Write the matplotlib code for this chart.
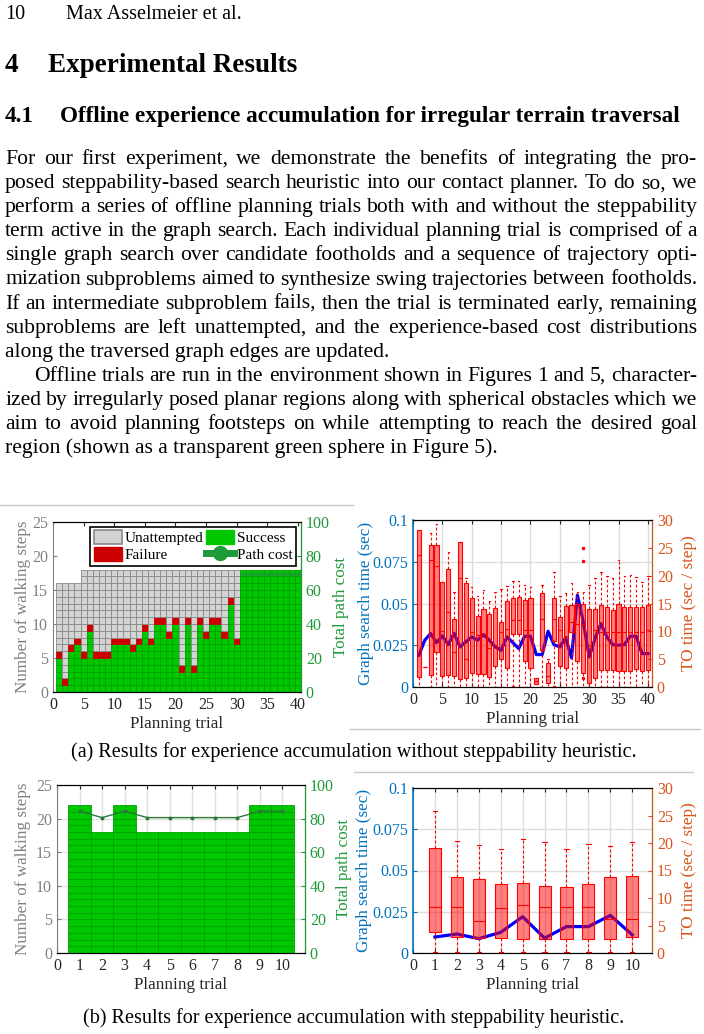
import numpy as np
import matplotlib.pyplot as plt
from matplotlib.patches import Patch
from matplotlib.lines import Line2D

plt.rcParams['font.family'] = ['Liberation Serif', 'DejaVu Serif']

W, H = 704, 1034
fig = plt.figure(figsize=(W / 100, H / 100), dpi=100)
renderer = fig.canvas.get_renderer()

# ---------------- data ----------------
# (a) without steppability heuristic, 40 trials
trials_a = np.arange(1, 41)
planned_steps_a = [16] * 4 + [18] * 36
success_steps_a = [5, 1, 6, 7, 5, 9, 5, 5, 5, 7, 7, 7, 6, 7, 9, 7, 10, 10, 8, 10,
                   3, 10, 3, 10, 8, 10, 10, 8, 13, 7] + [18] * 10
failed_a = [1] * 30 + [0] * 10
cost_trials_a = np.arange(31, 41)
path_cost_a = [69.5] * 10

search_time_a = [0.019, 0.028, 0.032, 0.0266, 0.0306, 0.0254, 0.0322, 0.024, 0.027, 0.030,
                 0.028, 0.0314, 0.028, 0.024, 0.022, 0.030, 0.0266, 0.023, 0.0304, 0.0304,
                 0.0194, 0.0194, 0.0334, 0.0254, 0.024, 0.0294, 0.0174, 0.055, 0.039, 0.018,
                 0.029, 0.038, 0.030, 0.0254, 0.025, 0.0254, 0.0304, 0.0304, 0.020, 0.020]
to_q1_a = [1.8, 3.6, 2.2, 6.3, 2.0, 2.1, 1.9, 1.5, 1.7, 2.5, 2.3, 2.4, 1.8, 3.7, 5.1, 3.4, 9.6, 9.6, 4.7, 3.4,
           0.5, 6.6, 0.7, 8.3, 3.7, 3.4, 9.8, 4.6, 2.5, 0.7, 1.6, 3.1, 3.1, 3.1, 2.8, 2.9, 2.8, 3.2, 2.8, 3.1]
to_med_a = [23.7, 3.6, 22.8, 21.8, 10.0, 13.4, 6.3, 19.5, 5.0, 9.9, 9.3, 9.6, 7.0, 7.5, 9.9, 10.5, 12.0, 12.0,
            10.2, 10.2, 1.0, 12.2, 1.9, 12.2, 10.2, 9.2, 11.6, 11.4, 11.4, 7.5, 10.2, 9.9, 9.9, 9.9, 9.9,
            9.8, 9.8, 9.8, 9.8, 10.2]
to_q3_a = [28.2, 3.6, 25.5, 25.5, 18.8, 21.2, 12.3, 26.0, 18.6, 15.9, 12.8, 14.0, 13.2, 14.2, 11.6, 15.4,
           15.9, 16.2, 15.6, 15.9, 1.6, 16.8, 4.3, 15.9, 12.6, 14.6, 14.8, 15.0, 15.0, 14.1, 14.1, 14.7,
           14.4, 13.8, 15.0, 14.4, 14.4, 14.4, 14.3, 14.7]
to_lo_a = [0.0, 3.6, 0.0, 0.0, 0.0, 0.0, 0.0, 0.0, 0.0, 0.0, 0.0, 0.0, 0.0, 0.0, 0.0, 0.0, 0.0, 0.0, 0.0, 0.0,
           0.5, 0.0, 0.0, 0.0, 0.0, 0.0, 0.0, 0.0, 0.0, 0.0, 0.0, 0.0, 0.0, 0.0, 0.0, 0.0, 0.0, 0.0, 0.0, 0.0]
to_hi_a = [28.2, 3.6, 27.6, 29.2, 18.8, 24.2, 17.1, 26.0, 19.5, 18.0, 16.4, 17.4, 15.4, 17.1, 17.6, 18.2,
           19.0, 19.0, 18.4, 18.0, 1.6, 18.4, 5.1, 20.6, 16.4, 16.8, 18.6, 17.0, 17.1, 18.4, 19.6, 20.7,
           19.9, 19.6, 22.8, 19.9, 20.2, 19.7, 18.9, 20.0]
to_fliers_a = {17: [0.0], 24: [0.0], 29: [25.0, 22.7, 1.7]}

# (b) with steppability heuristic, 10 trials
trials_b = np.arange(1, 11)
success_steps_b = [22, 18, 22, 18, 18, 18, 18, 18, 22, 22]
path_cost_b = [84.4, 80.6, 84.4, 80.6, 80.6, 80.6, 80.6, 80.6, 84.4, 84.4]
search_time_b = [0.0097, 0.0115, 0.0087, 0.0125, 0.022, 0.009, 0.016, 0.016, 0.0228, 0.011]
to_q1_b = [3.9, 2.9, 2.8, 2.7, 2.6, 2.5, 2.6, 2.5, 2.5, 2.9]
to_med_b = [8.3, 8.4, 5.8, 8.2, 8.7, 8.4, 8.3, 8.4, 6.1, 6.1]
to_q3_b = [19.1, 13.9, 13.5, 12.6, 12.7, 12.1, 12.0, 12.5, 13.8, 14.0]
to_lo_b = [0.2] * 10
to_hi_b = [25.8, 20.4, 19.6, 19.0, 20.7, 20.2, 18.9, 19.9, 19.5, 20.1]

GREEN = '#00c800'
GREEN_EDGE = '#00a000'
RED = '#cc0000'
GRAY = '#d3d3d3'
GRAY_EDGE = '#888888'
COST = '#1f9a3a'
STEPS_AX = '#808080'
BLUE_AX = '#0072bd'
ORANGE_AX = '#d95319'
TICK = 11.5
LABEL = 12.3


def rect(l, t, r, b):
    return [l / W, 1 - b / H, (r - l) / W, (b - t) / H]


# ---------------- page text ----------------
def put_line(text, y, x0=5, x1=697, justify=True, indent=0, **kw):
    if not justify:
        fig.text((x0 + indent) / W, 1 - y / H, text, va='baseline', **kw)
        return
    words = text.split()
    arts = [fig.text(0, 1 - y / H, w, va='baseline', **kw) for w in words]
    widths = [a.get_window_extent(renderer).width for a in arts]
    gap = max((x1 - x0 - indent - sum(widths)) / (len(words) - 1), 3)
    x = x0 + indent
    for a, w in zip(arts, widths):
        a.set_x(x / W)
        x += w + gap


fig.text(5 / W, 1 - 19 / H, '10', va='baseline', fontsize=14.5)
fig.text(66 / W, 1 - 19 / H, 'Max Asselmeier et al.', va='baseline', fontsize=14.5)
fig.text(5 / W, 1 - 72 / H, '4', va='baseline', fontsize=19.5, fontweight='bold')
fig.text(48 / W, 1 - 72 / H, 'Experimental Results', va='baseline', fontsize=19.5, fontweight='bold')
fig.text(5 / W, 1 - 122 / H, '4.1', va='baseline', fontsize=16.7, fontweight='bold')
fig.text(60 / W, 1 - 122 / H, 'Offline experience accumulation for irregular terrain traversal',
         va='baseline', fontsize=16.7, fontweight='bold')

para = [
    ("For our first experiment, we demonstrate the benefits of integrating the pro-", True, 0),
    ("posed steppability-based search heuristic into our contact planner. To do so, we", True, 0),
    ("perform a series of offline planning trials both with and without the steppability", True, 0),
    ("term active in the graph search. Each individual planning trial is comprised of a", True, 0),
    ("single graph search over candidate footholds and a sequence of trajectory opti-", True, 0),
    ("mization subproblems aimed to synthesize swing trajectories between footholds.", True, 0),
    ("If an intermediate subproblem fails, then the trial is terminated early, remaining", True, 0),
    ("subproblems are left unattempted, and the experience-based cost distributions", True, 0),
    ("along the traversed graph edges are updated.", False, 0),
    ("Offline trials are run in the environment shown in Figures 1 and 5, character-", True, 29),
    ("ized by irregularly posed planar regions along with spherical obstacles which we", True, 0),
    ("aim to avoid planning footsteps on while attempting to reach the desired goal", True, 0),
    ("region (shown as a transparent green sphere in Figure 5).", False, 0),
]
for i, (line, just, ind) in enumerate(para):
    put_line(line, 164 + 24.1 * i, justify=just, indent=ind, fontsize=15.6)

fig.text(354 / W, 1 - 757 / H,
         '(a) Results for experience accumulation without steppability heuristic.',
         ha='center', va='baseline', fontsize=14.5)
fig.text(354 / W, 1 - 1023 / H,
         '(b) Results for experience accumulation with steppability heuristic.',
         ha='center', va='baseline', fontsize=14.5)

for xs, y in [((0, 353), 505), ((350, 700), 729), ((354, 693), 772)]:
    fig.add_artist(Line2D([xs[0] / W, xs[1] / W], [1 - y / H] * 2, color='#c8c8c8', lw=1))


# ---------------- helpers ----------------
def draw_cells(ax, trials, planned, success, failed):
    xs, bottoms, fcs, ecs = [], [], [], []
    for t, p, s, f in zip(trials, planned, success, failed):
        for j in range(p):
            xs.append(t)
            bottoms.append(j)
            if j < s:
                fcs.append(GREEN)
                ecs.append(GREEN_EDGE)
            elif j == s and f:
                fcs.append(RED)
                ecs.append(RED)
            else:
                fcs.append(GRAY)
                ecs.append(GRAY_EDGE)
    ax.bar(xs, 1, bottom=bottoms, width=1, color=fcs, edgecolor=ecs, linewidth=0.6, zorder=2)


def style_steps_axes(ax, axr, xmax, xticks, lx, rx):
    ax.set_xlim(0, xmax)
    ax.set_ylim(0, 25)
    ax.set_xticks(xticks)
    ax.set_yticks(np.arange(0, 26, 5))
    ax.tick_params(direction='in', top=True, labelsize=TICK, length=3, colors='#262626')
    ax.tick_params(axis='y', colors=STEPS_AX, right=False)
    ax.spines['left'].set_color(STEPS_AX)
    ax.spines['bottom'].set_color('#262626')
    ax.spines['top'].set_color('#262626')
    ax.set_ylabel('Number of walking steps', color=STEPS_AX, fontsize=LABEL)
    ax.yaxis.set_label_coords(lx, 0.5)
    ax.set_xlabel('Planning trial', fontsize=LABEL, labelpad=2, color='#262626')
    axr.set_ylim(0, 100)
    axr.set_yticks(np.arange(0, 101, 20))
    axr.tick_params(direction='in', colors=COST, labelsize=TICK, length=3)
    axr.spines['right'].set_color(COST)
    axr.spines['left'].set_visible(False)
    axr.set_ylabel('Total path cost', color=COST, fontsize=LABEL)
    axr.yaxis.set_label_coords(rx, 0.5)


def draw_boxes(ax, trials, q1, med, q3, lo, hi, fliers, width):
    stats = []
    for t, a, m, b, l, h in zip(trials, q1, med, q3, lo, hi):
        stats.append(dict(q1=a, med=m, q3=b, whislo=l, whishi=h, fliers=fliers.get(int(t), [])))
    ax.bxp(stats, positions=trials, widths=width, capwidths=width * 0.35, patch_artist=True,
           manage_ticks=False,
           boxprops=dict(facecolor=(1, 0, 0, 0.5), edgecolor='red', linewidth=0.8),
           medianprops=dict(color='red', linewidth=0.8),
           whiskerprops=dict(color='red', linestyle=(0, (2.5, 2)), linewidth=0.8),
           capprops=dict(color='red', linewidth=0.8),
           flierprops=dict(marker='.', markerfacecolor='red', markeredgecolor='red', markersize=3))


def style_time_axes(ax, axr, xmax, xticks, lx, rx):
    ax.set_xlim(0, xmax)
    ax.set_ylim(0, 0.1)
    ax.set_xticks(xticks)
    ax.set_yticks([0, 0.025, 0.05, 0.075, 0.1])
    ax.set_yticklabels(['0', '0.025', '0.05', '0.075', '0.1'])
    ax.grid(True, color='#dcdcdc', linewidth=1)
    ax.set_axisbelow(True)
    ax.tick_params(direction='in', top=True, labelsize=TICK, length=3, colors='#262626')
    ax.tick_params(axis='y', colors=BLUE_AX)
    ax.spines['left'].set_color(BLUE_AX)
    ax.spines['left'].set_linewidth(1.2)
    ax.set_ylabel('Graph search time (sec)', color=BLUE_AX, fontsize=LABEL)
    ax.yaxis.set_label_coords(lx, 0.5)
    ax.set_xlabel('Planning trial', fontsize=LABEL, labelpad=2, color='#262626')
    axr.set_ylim(0, 30)
    axr.set_yticks(np.arange(0, 31, 5))
    axr.tick_params(direction='in', colors=ORANGE_AX, labelsize=TICK, length=3)
    axr.spines['right'].set_color(ORANGE_AX)
    axr.spines['left'].set_visible(False)
    axr.set_ylabel('TO time (sec / step)', color=ORANGE_AX, fontsize=LABEL)
    axr.yaxis.set_label_coords(rx, 0.5)


# ---------------- (a) left: steps ----------------
ax1 = fig.add_axes(rect(53, 522, 301, 692))
ax1r = ax1.twinx()
draw_cells(ax1, trials_a, planned_steps_a, success_steps_a, failed_a)
ax1r.plot(cost_trials_a, path_cost_a, color=COST, lw=1, marker='o', ms=1.8)
style_steps_axes(ax1, ax1r, 40.5, np.arange(0, 41, 5), -0.089, 1.13)
handles = [Patch(facecolor=GRAY, edgecolor=GRAY_EDGE, lw=1.2),
           Patch(facecolor=RED, edgecolor=RED),
           Patch(facecolor=GREEN, edgecolor=GREEN),
           Line2D([], [], color=COST, lw=5, marker='o', ms=10)]
labels = ['Unattempted', 'Failure', 'Success', 'Path cost']
leg = ax1r.legend(handles, labels, ncol=2, loc='upper right', fontsize=11, frameon=True,
                  fancybox=False, edgecolor='black', framealpha=1, borderpad=0.25,
                  handlelength=1.8, handleheight=1.0, handletextpad=0.2, columnspacing=0.2,
                  labelspacing=0.1, borderaxespad=0.3)
leg.get_frame().set_linewidth(1.2)

# ---------------- (a) right: times ----------------
ax2 = fig.add_axes(rect(413, 520, 652, 687))
ax2r = ax2.twinx()
ax2.plot(trials_a, search_time_a, color='blue', lw=2.3)
draw_boxes(ax2r, trials_a, to_q1_a, to_med_a, to_q3_a, to_lo_a, to_hi_a, to_fliers_a, 0.7)
style_time_axes(ax2, ax2r, 40.7, np.arange(0, 41, 5), -0.165, 1.12)

# ---------------- (b) left: steps ----------------
ax3 = fig.add_axes(rect(57, 785, 305, 953))
ax3r = ax3.twinx()
ax3.grid(True, color='#e0e0e0', linewidth=1)
ax3.set_axisbelow(True)
draw_cells(ax3, trials_b, success_steps_b, success_steps_b, [0] * 10)
ax3r.plot(trials_b, path_cost_b, color='#2a7a3a', lw=1, marker='o', ms=1.8)
style_steps_axes(ax3, ax3r, 11, np.arange(0, 11), -0.105, 1.125)

# ---------------- (b) right: times ----------------
ax4 = fig.add_axes(rect(413, 788, 652, 953))
ax4r = ax4.twinx()
ax4.plot(trials_b, search_time_b, color='blue', lw=2.3)
draw_boxes(ax4r, trials_b, to_q1_b, to_med_b, to_q3_b, to_lo_b, to_hi_b, {}, 0.55)
style_time_axes(ax4, ax4r, 10.9, np.arange(0, 11), -0.17, 1.12)

fig.savefig('out.png', dpi=100)
